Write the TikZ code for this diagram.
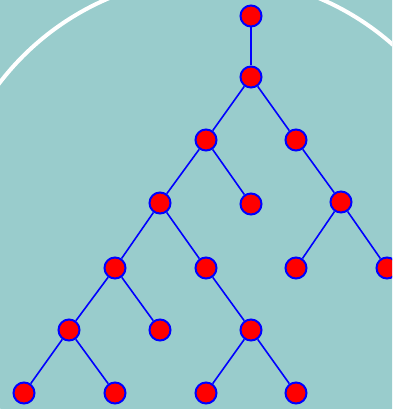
\documentclass[tikz,border=0pt]{standalone}
\definecolor{bgteal}{RGB}{153,204,204}
\tikzset{
	vertex/.style={circle, fill=red, draw=blue, line width=2pt, minimum size=21pt, inner sep=0pt},
	edge/.style={blue, line width=1.6pt}
}
\begin{document}
\begin{tikzpicture}[x=1pt,y=-1pt]
\useasboundingbox (0,0) rectangle (392,409);
\clip (0,0) rectangle (392,409);
\fill[bgteal] (-2,-2) rectangle (394,411);
\draw[white, line width=4pt] (214,247) circle (270pt);
% the tree
\node[vertex] (r) at (251,16) {};
\node[vertex] (a) at (251,77) {};
\node[vertex] (b) at (206,140) {};
\node[vertex] (c) at (296,140) {};
\node[vertex] (d) at (160,203) {};
\node[vertex] (e) at (251,204) {};
\node[vertex] (f) at (341,202) {};
\node[vertex] (g) at (115,268) {};
\node[vertex] (h) at (206,268) {};
\node[vertex] (i) at (296,268) {};
\node[vertex] (j) at (387,268) {};
\node[vertex] (k) at (69,330) {};
\node[vertex] (l) at (160,330) {};
\node[vertex] (m) at (251,330) {};
\node[vertex] (n) at (24,393) {};
\node[vertex] (o) at (115,393) {};
\node[vertex] (p) at (206,393) {};
\node[vertex] (q) at (296,393) {};
\foreach \u/\v in {r/a, a/b, a/c, b/d, b/e, c/f, d/g, d/h, f/i, f/j, g/k, g/l, h/m, k/n, k/o, m/p, m/q}
{
	\draw[edge] (\u) -- (\v);
}
\end{tikzpicture}
\end{document}
